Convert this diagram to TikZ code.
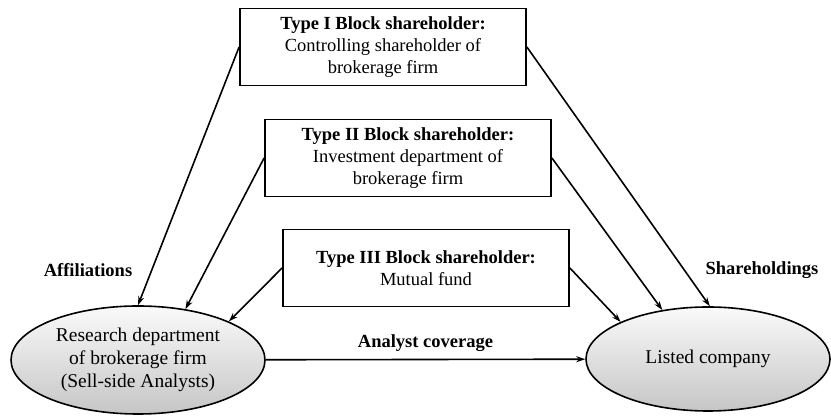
\documentclass[tikz,border=0pt]{standalone}
\usepackage{fontspec}
\setmainfont{Liberation Serif}
\usetikzlibrary{shapes.geometric,positioning,arrows.meta}

\begin{document}
\begin{tikzpicture}[x=1pt,y=1pt,on grid,
  block/.style={draw,line width=1.8pt,minimum width=286pt,minimum height=77pt,align=center,font=\fontsize{18.5}{22}\selectfont},
  party/.style={ellipse,draw,line width=1.6pt,top color=gray!4,bottom color=gray!45,align=center,font=\fontsize{19.5}{23}\selectfont},
  tag/.style={font=\fontsize{18.5}{22}\selectfont\bfseries},
  >={Stealth[length=9pt,width=6pt]}]
\useasboundingbox (0,0) rectangle (831,417);
\node[block] (t_1) at (383,370) {\textbf{Type I Block shareholder:}\\Controlling shareholder of\\brokerage firm};
\node[block] (t_2) [below right=111pt and 25pt of t_1] {\textbf{Type II Block shareholder:}\\Investment department of\\brokerage firm};
\node[block] (t_3) [below right=110pt and 18pt of t_2] {\textbf{Type III Block shareholder:}\\Mutual fund};
\node[party,minimum width=254pt,minimum height=108pt] (rd) at (138,57) {Research department\\of brokerage firm\\(Sell-side Analysts)};
\node[party,minimum width=244pt,minimum height=104pt] (lc) at (708,58) {Listed company};
\node[tag] (aff) at (88,147) {Affiliations};
\node[tag] (sh) at (762,147) {Shareholdings};
\path[->,line width=1.6pt]
  (t_1.west) edge (rd.90)
  (t_2.west) edge (rd.47)
  (t_3.west) edge (rd.23)
  (t_1.east) edge (lc.88)
  (t_2.east) edge (lc.133)
  (t_3.east) edge (lc.157)
  (rd) edge node[tag,above=4pt] {Analyst coverage} (lc)
  ;
\end{tikzpicture}
\end{document}
